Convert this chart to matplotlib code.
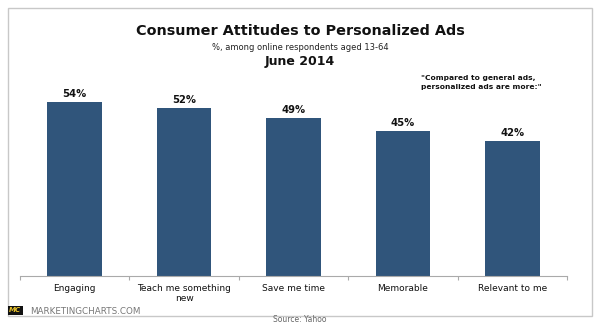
import matplotlib
matplotlib.use("Agg")
import matplotlib.pyplot as plt
from matplotlib.patches import Rectangle

categories = ["Engaging", "Teach me something\nnew", "Save me time", "Memorable", "Relevant to me"]
values = [54, 52, 49, 45, 42]
value_labels = ["54%", "52%", "49%", "45%", "42%"]

W, H = 600, 323
fig = plt.figure(figsize=(W / 100, H / 100), dpi=100)
fig.patch.set_facecolor("white")

def fx(x):
    return x / W

def fy(y):
    return 1 - y / H

# outer border
fig.patches.append(Rectangle((fx(7.5), fy(316)), fx(592) - fx(7.5), fy(8) - fy(316),
                             transform=fig.transFigure, fill=False, edgecolor="#c8c8c8", lw=1.0))

ax_left, ax_right = 20, 567
ax_bottom, ax_top = 276, 90
scale = (276 - 102) / 54.0
ax = fig.add_axes([fx(ax_left), fy(ax_bottom), fx(ax_right) - fx(ax_left), fy(ax_top) - fy(ax_bottom)])
ax.set_xlim(-0.5, len(categories) - 0.5)
ax.set_ylim(0, (ax_bottom - ax_top) / scale)

x = list(range(len(categories)))
ax.bar(x, values, width=0.5, color="#30557b")
for xi, v, lab in zip(x, values, value_labels):
    ax.annotate(lab, (xi, v), xytext=(0, 2.2), textcoords="offset points", ha="center", va="bottom",
                fontsize=7.2, fontweight="bold", color="#111111")

for s in ["top", "right", "left"]:
    ax.spines[s].set_visible(False)
ax.spines["bottom"].set_color("#aaaaaa")
ax.spines["bottom"].set_linewidth(0.8)
ax.set_yticks([])
ax.set_xticks([i - 0.5 for i in range(len(categories) + 1)])
ax.set_xticklabels([])
ax.tick_params(axis="x", length=3, color="#aaaaaa", width=0.8)
ax.set_xticks(x, minor=True)
ax.set_xticklabels(categories, minor=True, fontsize=6.5, color="#111111", linespacing=1.15)
ax.tick_params(axis="x", which="minor", length=0, pad=6)

fig.text(0.5, fy(31), "Consumer Attitudes to Personalized Ads", ha="center", va="center",
         fontsize=10.4, fontweight="bold", color="#111111")
fig.text(0.5, fy(47), "%, among online respondents aged 13-64", ha="center", va="center",
         fontsize=6.0, color="#222222")
fig.text(0.5, fy(61), "June 2014", ha="center", va="center",
         fontsize=9, fontweight="bold", color="#111111")
fig.text(fx(421), fy(82), "\"Compared to general ads,\npersonalized ads are more:\"", ha="left", va="center",
         fontsize=5.4, fontweight="bold", color="#111111", linespacing=1.6)

# logo
fig.patches.append(Rectangle((fx(7.5), fy(315)), fx(23) - fx(7.5), fy(306) - fy(315),
                             transform=fig.transFigure, facecolor="#111111", edgecolor="none"))
fig.text(fx(15.3), fy(310.5), "MC", ha="center", va="center", fontsize=5, fontweight="bold",
         color="#e8c22a", style="italic")
fig.text(fx(30), fy(311), "MARKETINGCHARTS.COM", ha="left", va="center", fontsize=6.3, color="#777777")
fig.text(0.5, fy(319.5), "Source: Yahoo", ha="center", va="center", fontsize=5.5, color="#666666")

fig.savefig("out.png", dpi=100)
